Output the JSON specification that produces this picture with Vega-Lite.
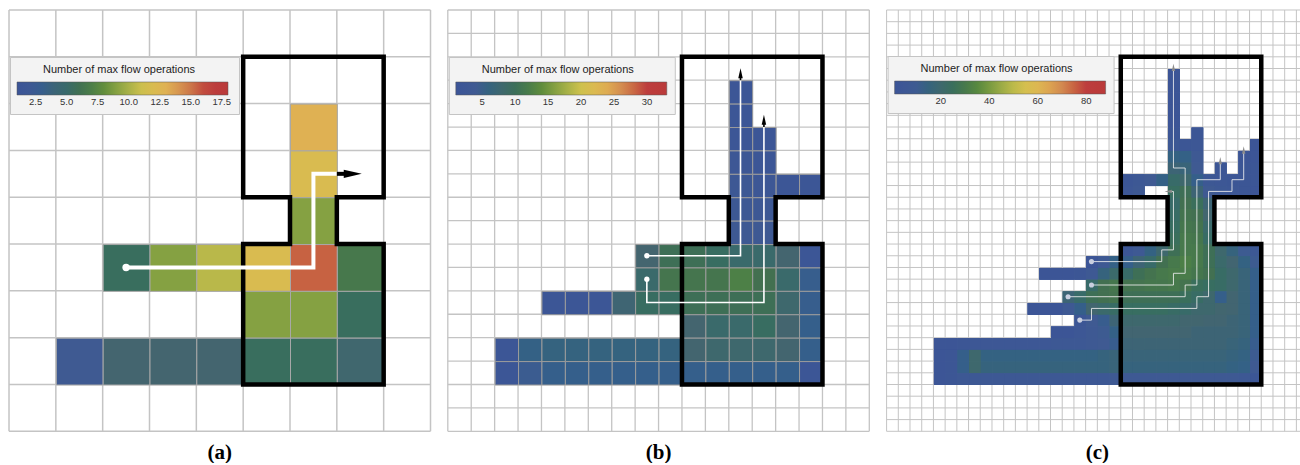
{
 "$schema": "https://vega.github.io/schema/vega-lite/v6.json",
 "padding": {"left": 8, "top": 9, "right": 0, "bottom": 0},
 "background": "white",
 "spacing": 14.8,
 "resolve": {"scale": {"color": "independent", "shape": "independent"}, "legend": {"color": "independent"}},
 "datasets": {
  "gridA": [{"g":0},{"g":1},{"g":2},{"g":3},{"g":4},{"g":5},{"g":6},{"g":7},{"g":8},{"g":9}],
  "gridB": [{"g":0},{"g":1},{"g":2},{"g":3},{"g":4},{"g":5},{"g":6},{"g":7},{"g":8},{"g":9},{"g":10},{"g":11},{"g":12},{"g":13},{"g":14},{"g":15},{"g":16},{"g":17},{"g":18}],
  "gridC": [{"g":0},{"g":1},{"g":2},{"g":3},{"g":4},{"g":5},{"g":6},{"g":7},{"g":8},{"g":9},{"g":10},{"g":11},{"g":12},{"g":13},{"g":14},{"g":15},{"g":16},{"g":17},{"g":18},{"g":19},{"g":20},{"g":21},{"g":22},{"g":23},{"g":24},{"g":25},{"g":26},{"g":27},{"g":28},{"g":29},{"g":30},{"g":31},{"g":32},{"g":33},{"g":34},{"g":35},{"g":36}],
  "cellsA": [{"x":6,"y":2,"v":13},{"x":6,"y":3,"v":12},{"x":6,"y":4,"v":9},
   {"x":2,"y":5,"v":5.6},{"x":3,"y":5,"v":9},{"x":4,"y":5,"v":10.5},{"x":5,"y":5,"v":12},{"x":6,"y":5,"v":15.5},{"x":7,"y":5,"v":6.6},
   {"x":5,"y":6,"v":9},{"x":6,"y":6,"v":9},{"x":7,"y":6,"v":5.6},
   {"x":1,"y":7,"v":2.7},{"x":2,"y":7,"v":4.4},{"x":3,"y":7,"v":4.4},{"x":4,"y":7,"v":4.4},{"x":5,"y":7,"v":5.6},{"x":6,"y":7,"v":5.6},{"x":7,"y":7,"v":4.6}],
  "cellsB": [{"x":12,"y":3,"v":2},{"x":12,"y":4,"v":2},{"x":12,"y":5,"v":2},{"x":13,"y":5,"v":2},
   {"x":12,"y":6,"v":2.5},{"x":13,"y":6,"v":2},
   {"x":12,"y":7,"v":3},{"x":13,"y":7,"v":2.5},{"x":14,"y":7,"v":2},{"x":15,"y":7,"v":2},
   {"x":12,"y":8,"v":3},{"x":13,"y":8,"v":3},{"x":12,"y":9,"v":3.5},{"x":13,"y":9,"v":3.5},
   {"x":8,"y":10,"v":7.4},{"x":9,"y":10,"v":10.2},{"x":10,"y":10,"v":10.2},{"x":11,"y":10,"v":9.4},{"x":12,"y":10,"v":8.4},{"x":13,"y":10,"v":8.4},{"x":14,"y":10,"v":7.4},{"x":15,"y":10,"v":2},
   {"x":8,"y":11,"v":8.4},{"x":9,"y":11,"v":11.2},{"x":10,"y":11,"v":11.2},{"x":11,"y":11,"v":11.2},{"x":12,"y":11,"v":12.5},{"x":13,"y":11,"v":10.6},{"x":14,"y":11,"v":8.4},{"x":15,"y":11,"v":4.8},
   {"x":4,"y":12,"v":2},{"x":5,"y":12,"v":2},{"x":6,"y":12,"v":2},{"x":7,"y":12,"v":7},{"x":8,"y":12,"v":9.4},{"x":9,"y":12,"v":9.4},{"x":10,"y":12,"v":10.2},{"x":11,"y":12,"v":10.2},{"x":12,"y":12,"v":10.2},{"x":13,"y":12,"v":10.2},{"x":14,"y":12,"v":8},{"x":15,"y":12,"v":4.8},
   {"x":10,"y":13,"v":7.4},{"x":11,"y":13,"v":8.4},{"x":12,"y":13,"v":8.4},{"x":13,"y":13,"v":9.4},{"x":14,"y":13,"v":7.4},{"x":15,"y":13,"v":5},
   {"x":2,"y":14,"v":2},{"x":3,"y":14,"v":5.5},{"x":4,"y":14,"v":6},{"x":5,"y":14,"v":6},{"x":6,"y":14,"v":6},{"x":7,"y":14,"v":6},{"x":8,"y":14,"v":6},{"x":9,"y":14,"v":6},{"x":10,"y":14,"v":7.5},{"x":11,"y":14,"v":8},{"x":12,"y":14,"v":8},{"x":13,"y":14,"v":8},{"x":14,"y":14,"v":7.5},{"x":15,"y":14,"v":5},
   {"x":2,"y":15,"v":2},{"x":3,"y":15,"v":4.5},{"x":4,"y":15,"v":5},{"x":5,"y":15,"v":5},{"x":6,"y":15,"v":5},{"x":7,"y":15,"v":5},{"x":8,"y":15,"v":5},{"x":9,"y":15,"v":5},{"x":10,"y":15,"v":5},{"x":11,"y":15,"v":5},{"x":12,"y":15,"v":5},{"x":13,"y":15,"v":5},{"x":14,"y":15,"v":5},{"x":15,"y":15,"v":2}],
  "cellsC": [
   {"x":24,"y":5,"v":3},{"x":24,"y":6,"v":3},{"x":24,"y":7,"v":3},{"x":24,"y":8,"v":3},{"x":24,"y":9,"v":3},{"x":24,"y":10,"v":4},{"x":24,"y":11,"v":6},{"x":24,"y":12,"v":14},{"x":24,"y":13,"v":17},
   {"x":25,"y":11,"v":4},{"x":25,"y":12,"v":13},{"x":25,"y":13,"v":16},
   {"x":26,"y":10,"v":4},{"x":26,"y":11,"v":5},{"x":26,"y":12,"v":8},{"x":26,"y":13,"v":9},
   {"x":28,"y":13,"v":4},{"x":30,"y":12,"v":3},{"x":30,"y":13,"v":4},{"x":31,"y":11,"v":3},{"x":31,"y":12,"v":3},{"x":31,"y":13,"v":4},
   {"x":20,"y":14,"v":4},{"x":21,"y":14,"v":6},{"x":22,"y":14,"v":9},{"x":23,"y":14,"v":13},{"x":24,"y":14,"v":22},{"x":25,"y":14,"v":20},{"x":26,"y":14,"v":12},{"x":27,"y":14,"v":7},{"x":28,"y":14,"v":5},{"x":29,"y":14,"v":4},{"x":30,"y":14,"v":4},{"x":31,"y":14,"v":4},
   {"x":20,"y":15,"v":5},{"x":21,"y":15,"v":8},{"x":24,"y":15,"v":24},{"x":25,"y":15,"v":26},{"x":26,"y":15,"v":17},{"x":27,"y":15,"v":9},{"x":28,"y":15,"v":6},{"x":29,"y":15,"v":5},{"x":30,"y":15,"v":4},{"x":31,"y":15,"v":3},
   {"x":24,"y":16,"v":22},{"x":25,"y":16,"v":27},{"x":26,"y":16,"v":25},{"x":27,"y":16,"v":17},
   {"x":24,"y":17,"v":23},{"x":25,"y":17,"v":28},{"x":26,"y":17,"v":27},{"x":27,"y":17,"v":19},
   {"x":24,"y":18,"v":24},{"x":25,"y":18,"v":29},{"x":26,"y":18,"v":28},{"x":27,"y":18,"v":21},
   {"x":24,"y":19,"v":25},{"x":25,"y":19,"v":30},{"x":26,"y":19,"v":29},{"x":27,"y":19,"v":23},
   {"x":20,"y":20,"v":4},{"x":21,"y":20,"v":8},{"x":22,"y":20,"v":14},{"x":23,"y":20,"v":20},{"x":24,"y":20,"v":26},{"x":25,"y":20,"v":30},{"x":26,"y":20,"v":30},{"x":27,"y":20,"v":26},{"x":28,"y":20,"v":20},{"x":29,"y":20,"v":15},{"x":30,"y":20,"v":10},{"x":31,"y":20,"v":6},
   {"x":20,"y":21,"v":12},{"x":21,"y":21,"v":17},{"x":22,"y":21,"v":22},{"x":23,"y":21,"v":27},{"x":24,"y":21,"v":30},{"x":25,"y":21,"v":32},{"x":26,"y":21,"v":30},{"x":27,"y":21,"v":26},{"x":28,"y":21,"v":21},{"x":29,"y":21,"v":18},{"x":30,"y":21,"v":14},{"x":31,"y":21,"v":10},
   {"x":20,"y":22,"v":22},{"x":21,"y":22,"v":26},{"x":22,"y":22,"v":28},{"x":23,"y":22,"v":30},{"x":24,"y":22,"v":31},{"x":25,"y":22,"v":31},{"x":26,"y":22,"v":29},{"x":27,"y":22,"v":27},{"x":28,"y":22,"v":23},{"x":29,"y":22,"v":20},{"x":30,"y":22,"v":16},{"x":31,"y":22,"v":12},
   {"x":20,"y":23,"v":28},{"x":21,"y":23,"v":28},{"x":22,"y":23,"v":29},{"x":23,"y":23,"v":29},{"x":24,"y":23,"v":30},{"x":25,"y":23,"v":28},{"x":26,"y":23,"v":25},{"x":27,"y":23,"v":24},{"x":28,"y":23,"v":23},{"x":29,"y":23,"v":20},{"x":30,"y":23,"v":16},{"x":31,"y":23,"v":12},
   {"x":20,"y":24,"v":26},{"x":21,"y":24,"v":26},{"x":22,"y":24,"v":26},{"x":23,"y":24,"v":26},{"x":24,"y":24,"v":26},{"x":25,"y":24,"v":25},{"x":26,"y":24,"v":23},{"x":27,"y":24,"v":20},{"x":28,"y":24,"v":12},{"x":29,"y":24,"v":18},{"x":30,"y":24,"v":16},{"x":31,"y":24,"v":12},
   {"x":20,"y":25,"v":24},{"x":21,"y":25,"v":24},{"x":22,"y":25,"v":24},{"x":23,"y":25,"v":24},{"x":24,"y":25,"v":23},{"x":25,"y":25,"v":22},{"x":26,"y":25,"v":20},{"x":27,"y":25,"v":20},{"x":28,"y":25,"v":19},{"x":29,"y":25,"v":18},{"x":30,"y":25,"v":16},{"x":31,"y":25,"v":12},
   {"x":20,"y":26,"v":20},{"x":21,"y":26,"v":20},{"x":22,"y":26,"v":20},{"x":23,"y":26,"v":20},{"x":24,"y":26,"v":20},{"x":25,"y":26,"v":19},{"x":26,"y":26,"v":19},{"x":27,"y":26,"v":18},{"x":28,"y":26,"v":18},{"x":29,"y":26,"v":17},{"x":30,"y":26,"v":16},{"x":31,"y":26,"v":12},
   {"x":20,"y":27,"v":18},{"x":21,"y":27,"v":18},{"x":22,"y":27,"v":18},{"x":23,"y":27,"v":18},{"x":24,"y":27,"v":18},{"x":25,"y":27,"v":18},{"x":26,"y":27,"v":17},{"x":27,"y":27,"v":17},{"x":28,"y":27,"v":17},{"x":29,"y":27,"v":17},{"x":30,"y":27,"v":16},{"x":31,"y":27,"v":12},
   {"x":20,"y":28,"v":17},{"x":21,"y":28,"v":17},{"x":22,"y":28,"v":17},{"x":23,"y":28,"v":17},{"x":24,"y":28,"v":17},{"x":25,"y":28,"v":17},{"x":26,"y":28,"v":17},{"x":27,"y":28,"v":17},{"x":28,"y":28,"v":17},{"x":29,"y":28,"v":16},{"x":30,"y":28,"v":15},{"x":31,"y":28,"v":11},
   {"x":20,"y":29,"v":16},{"x":21,"y":29,"v":16},{"x":22,"y":29,"v":16},{"x":23,"y":29,"v":16},{"x":24,"y":29,"v":16},{"x":25,"y":29,"v":16},{"x":26,"y":29,"v":16},{"x":27,"y":29,"v":16},{"x":28,"y":29,"v":16},{"x":29,"y":29,"v":15},{"x":30,"y":29,"v":14},{"x":31,"y":29,"v":10},
   {"x":20,"y":30,"v":15},{"x":21,"y":30,"v":15},{"x":22,"y":30,"v":15},{"x":23,"y":30,"v":15},{"x":24,"y":30,"v":15},{"x":25,"y":30,"v":15},{"x":26,"y":30,"v":15},{"x":27,"y":30,"v":15},{"x":28,"y":30,"v":15},{"x":29,"y":30,"v":14},{"x":30,"y":30,"v":13},{"x":31,"y":30,"v":9},
   {"x":20,"y":31,"v":8},{"x":21,"y":31,"v":8},{"x":22,"y":31,"v":8},{"x":23,"y":31,"v":8},{"x":24,"y":31,"v":8},{"x":25,"y":31,"v":8},{"x":26,"y":31,"v":8},{"x":27,"y":31,"v":8},{"x":28,"y":31,"v":8},{"x":29,"y":31,"v":8},{"x":30,"y":31,"v":7},{"x":31,"y":31,"v":4},
   {"x":17,"y":21,"v":3},{"x":18,"y":21,"v":8},{"x":19,"y":21,"v":13},
   {"x":13,"y":22,"v":3},{"x":14,"y":22,"v":3},{"x":15,"y":22,"v":3},{"x":16,"y":22,"v":4},{"x":17,"y":22,"v":8},{"x":18,"y":22,"v":15},{"x":19,"y":22,"v":21},
   {"x":17,"y":23,"v":22},{"x":18,"y":23,"v":27},{"x":19,"y":23,"v":29},
   {"x":15,"y":24,"v":17},{"x":16,"y":24,"v":22},{"x":17,"y":24,"v":26},{"x":18,"y":24,"v":27},{"x":19,"y":24,"v":28},
   {"x":12,"y":25,"v":3},{"x":13,"y":25,"v":3},{"x":14,"y":25,"v":3},{"x":15,"y":25,"v":8},{"x":16,"y":25,"v":12},{"x":17,"y":25,"v":19},{"x":18,"y":25,"v":21},{"x":19,"y":25,"v":23},
   {"x":16,"y":26,"v":4},{"x":17,"y":26,"v":9},{"x":18,"y":26,"v":11},{"x":19,"y":26,"v":17},
   {"x":14,"y":27,"v":3},{"x":15,"y":27,"v":3},{"x":16,"y":27,"v":5},{"x":17,"y":27,"v":8},{"x":18,"y":27,"v":10},{"x":19,"y":27,"v":13},
   {"x":4,"y":28,"v":3},{"x":5,"y":28,"v":3},{"x":6,"y":28,"v":4},{"x":7,"y":28,"v":5},{"x":8,"y":28,"v":5},{"x":9,"y":28,"v":5},{"x":10,"y":28,"v":5},{"x":11,"y":28,"v":5},{"x":12,"y":28,"v":5},{"x":13,"y":28,"v":5},{"x":14,"y":28,"v":6},{"x":15,"y":28,"v":6},{"x":16,"y":28,"v":7},{"x":17,"y":28,"v":8},{"x":18,"y":28,"v":9},{"x":19,"y":28,"v":11},
   {"x":4,"y":29,"v":3},{"x":5,"y":29,"v":4},{"x":6,"y":29,"v":12},{"x":7,"y":29,"v":20},{"x":8,"y":29,"v":14},{"x":9,"y":29,"v":14},{"x":10,"y":29,"v":14},{"x":11,"y":29,"v":14},{"x":12,"y":29,"v":14},{"x":13,"y":29,"v":14},{"x":14,"y":29,"v":14},{"x":15,"y":29,"v":14},{"x":16,"y":29,"v":14},{"x":17,"y":29,"v":14},{"x":18,"y":29,"v":15},{"x":19,"y":29,"v":16},
   {"x":4,"y":30,"v":3},{"x":5,"y":30,"v":4},{"x":6,"y":30,"v":12},{"x":7,"y":30,"v":20},{"x":8,"y":30,"v":15},{"x":9,"y":30,"v":15},{"x":10,"y":30,"v":15},{"x":11,"y":30,"v":15},{"x":12,"y":30,"v":15},{"x":13,"y":30,"v":15},{"x":14,"y":30,"v":15},{"x":15,"y":30,"v":15},{"x":16,"y":30,"v":15},{"x":17,"y":30,"v":15},{"x":18,"y":30,"v":15},{"x":19,"y":30,"v":16},
   {"x":4,"y":31,"v":3},{"x":5,"y":31,"v":4},{"x":6,"y":31,"v":6},{"x":7,"y":31,"v":7},{"x":8,"y":31,"v":7},{"x":9,"y":31,"v":7},{"x":10,"y":31,"v":7},{"x":11,"y":31,"v":7},{"x":12,"y":31,"v":7},{"x":13,"y":31,"v":7},{"x":14,"y":31,"v":7},{"x":15,"y":31,"v":7},{"x":16,"y":31,"v":7},{"x":17,"y":31,"v":7},{"x":18,"y":31,"v":7},{"x":19,"y":31,"v":8}],
  "outA": [{"i":0,"x":5,"y":1},{"i":1,"x":8,"y":1},{"i":2,"x":8,"y":4},{"i":3,"x":7,"y":4},{"i":4,"x":7,"y":5},{"i":5,"x":8,"y":5},{"i":6,"x":8,"y":8},{"i":7,"x":5,"y":8},{"i":8,"x":5,"y":5},{"i":9,"x":6,"y":5},{"i":10,"x":6,"y":4},{"i":11,"x":5,"y":4},{"i":12,"x":5,"y":1}],
  "outB": [{"i":0,"x":10,"y":2},{"i":1,"x":16,"y":2},{"i":2,"x":16,"y":8},{"i":3,"x":14,"y":8},{"i":4,"x":14,"y":10},{"i":5,"x":16,"y":10},{"i":6,"x":16,"y":16},{"i":7,"x":10,"y":16},{"i":8,"x":10,"y":10},{"i":9,"x":12,"y":10},{"i":10,"x":12,"y":8},{"i":11,"x":10,"y":8},{"i":12,"x":10,"y":2}],
  "outC": [{"i":0,"x":20,"y":4},{"i":1,"x":32,"y":4},{"i":2,"x":32,"y":16},{"i":3,"x":28,"y":16},{"i":4,"x":28,"y":20},{"i":5,"x":32,"y":20},{"i":6,"x":32,"y":32},{"i":7,"x":20,"y":32},{"i":8,"x":20,"y":20},{"i":9,"x":24,"y":20},{"i":10,"x":24,"y":16},{"i":11,"x":20,"y":16},{"i":12,"x":20,"y":4}],
  "pathA": [{"p":1,"i":0,"x":2.5,"y":5.5},{"p":1,"i":1,"x":6.5,"y":5.5},{"p":1,"i":2,"x":6.5,"y":3.5},{"p":1,"i":3,"x":7.0,"y":3.5}],
  "stemA": [{"p":1,"i":0,"x":7.0,"y":3.5},{"p":1,"i":1,"x":7.2,"y":3.5}],
  "headA": [{"x":7.34,"y":3.5}],
  "startA": [{"x":2.5,"y":5.5}],
  "pathB": [{"p":1,"i":0,"x":8.5,"y":10.5},{"p":1,"i":1,"x":12.5,"y":10.5},{"p":1,"i":2,"x":12.5,"y":3.0},
   {"p":2,"i":0,"x":8.5,"y":11.5},{"p":2,"i":1,"x":8.5,"y":12.5},{"p":2,"i":2,"x":13.5,"y":12.5},{"p":2,"i":3,"x":13.5,"y":5.0}],
  "stemB": [{"p":1,"i":0,"x":12.5,"y":3.0},{"p":1,"i":1,"x":12.5,"y":2.8},{"p":2,"i":0,"x":13.5,"y":5.0},{"p":2,"i":1,"x":13.5,"y":4.8}],
  "headB": [{"x":12.5,"y":2.7},{"x":13.5,"y":4.69}],
  "startB": [{"x":8.5,"y":10.5},{"x":8.5,"y":11.5}],
  "pathC": [{"p":1,"i":0,"x":17.5,"y":21.5},{"p":1,"i":1,"x":23.5,"y":21.5},{"p":1,"i":2,"x":23.5,"y":20.5},{"p":1,"i":3,"x":24.5,"y":20.5},{"p":1,"i":4,"x":24.5,"y":15.5},{"p":1,"i":5,"x":24.3,"y":15.5},
   {"p":2,"i":0,"x":17.5,"y":23.5},{"p":2,"i":1,"x":24.5,"y":23.5},{"p":2,"i":2,"x":24.5,"y":22.5},{"p":2,"i":3,"x":25.5,"y":22.5},{"p":2,"i":4,"x":25.5,"y":13.5},{"p":2,"i":5,"x":24.5,"y":13.5},{"p":2,"i":6,"x":24.5,"y":5.1},
   {"p":3,"i":0,"x":15.5,"y":24.5},{"p":3,"i":1,"x":25.5,"y":24.5},{"p":3,"i":2,"x":25.5,"y":23.5},{"p":3,"i":3,"x":26.5,"y":23.5},{"p":3,"i":4,"x":26.5,"y":14.5},{"p":3,"i":5,"x":28.5,"y":14.5},{"p":3,"i":6,"x":28.5,"y":13.1},
   {"p":4,"i":0,"x":16.5,"y":26.5},{"p":4,"i":1,"x":17.5,"y":26.5},{"p":4,"i":2,"x":17.5,"y":25.5},{"p":4,"i":3,"x":26.5,"y":25.5},{"p":4,"i":4,"x":26.5,"y":24.5},{"p":4,"i":5,"x":27.5,"y":24.5},{"p":4,"i":6,"x":27.5,"y":15.5},{"p":4,"i":7,"x":29.5,"y":15.5},{"p":4,"i":8,"x":29.5,"y":14.5},{"p":4,"i":9,"x":30.5,"y":14.5},{"p":4,"i":10,"x":30.5,"y":12.1}],
  "headC": [{"d":"left","x":24.05,"y":15.5},{"d":"up","x":24.5,"y":4.9},{"d":"up","x":28.5,"y":12.87},{"d":"up","x":30.5,"y":11.96}],
  "startC": [{"x":17.5,"y":21.5},{"x":17.5,"y":23.5},{"x":15.5,"y":24.5},{"x":16.5,"y":26.5}]
 },
 "hconcat": [
  {
   "width": 421.5, "height": 421.3,
   "title": {"text": "(a)", "orient": "bottom", "anchor": "middle", "font": "Liberation Serif", "fontSize": 21, "fontWeight": "bold", "color": "#000000", "offset": 10},
   "layer": [
    {"data": {"name": "gridA"}, "mark": {"type": "rule", "color": "#c4c4c4", "strokeWidth": 1.5},
     "encoding": {"x": {"field": "g", "type": "quantitative", "title": null, "scale": {"domain": [0, 9], "nice": false, "zero": false}}}},
    {"data": {"name": "gridA"}, "mark": {"type": "rule", "color": "#c4c4c4", "strokeWidth": 1.5},
     "encoding": {"y": {"field": "g", "type": "quantitative", "title": null, "scale": {"domain": [0, 9], "nice": false, "zero": false, "reverse": true}}}},
    {"data": {"name": "cellsA"},
     "mark": {"type": "rect", "stroke": "#a8a8a8", "strokeWidth": 1, "binSpacing": 0},
     "encoding": {
      "x": {"field": "x", "type": "quantitative", "bin": {"step": 1, "extent": [0, 9]}, "title": null},
      "y": {"field": "y", "type": "quantitative", "bin": {"step": 1, "extent": [0, 9]}, "title": null},
      "color": {"field": "v", "type": "quantitative", "scale": {"domain": [1, 18], "range": ["#3b5497","#3f5a92","#44656f","#437050","#5b8a3c","#98aa46","#d2c24e","#e0b454","#d08650","#bd3d3d","#ba3a3a"]},
       "legend": {"title": "Number of max flow operations", "orient": "none", "legendX": 1, "legendY": 47, "direction": "horizontal", "gradientLength": 211, "gradientThickness": 13, "values": [2.5,5,7.5,10,12.5,15,17.5], "format": ".1f", "titleAnchor": "middle", "titleAlign": "center"}}
     }},
    {"data": {"name": "outA"}, "mark": {"type": "line", "color": "#000000", "strokeWidth": 4.5, "strokeCap": "square", "strokeJoin": "miter"},
     "encoding": {"x": {"field": "x", "type": "quantitative", "title": null}, "y": {"field": "y", "type": "quantitative", "title": null}, "order": {"field": "i"}}},
    {"data": {"name": "pathA"}, "mark": {"type": "line", "color": "#ffffff", "strokeWidth": 4, "strokeJoin": "miter"},
     "encoding": {"x": {"field": "x", "type": "quantitative", "title": null}, "y": {"field": "y", "type": "quantitative", "title": null}, "order": {"field": "i"}, "detail": {"field": "p"}}},
    {"data": {"name": "stemA"}, "mark": {"type": "line", "color": "#000000", "strokeWidth": 4},
     "encoding": {"x": {"field": "x", "type": "quantitative", "title": null}, "y": {"field": "y", "type": "quantitative", "title": null}, "order": {"field": "i"}, "detail": {"field": "p"}}},
    {"data": {"name": "headA"}, "mark": {"type": "point", "shape": "M1,0L-1,0.45L-1,-0.45Z", "filled": true, "color": "#000000", "opacity": 1, "size": 324},
     "encoding": {"x": {"field": "x", "type": "quantitative", "title": null}, "y": {"field": "y", "type": "quantitative", "title": null}}},
    {"data": {"name": "startA"}, "mark": {"type": "circle", "color": "#ffffff", "opacity": 1, "size": 55},
     "encoding": {"x": {"field": "x", "type": "quantitative", "title": null}, "y": {"field": "y", "type": "quantitative", "title": null}}}
   ]
  },
  {
   "width": 421.5, "height": 421.3,
   "title": {"text": "(b)", "orient": "bottom", "anchor": "middle", "font": "Liberation Serif", "fontSize": 21, "fontWeight": "bold", "color": "#000000", "offset": 10},
   "layer": [
    {"data": {"name": "gridB"}, "mark": {"type": "rule", "color": "#c4c4c4", "strokeWidth": 1.3},
     "encoding": {"x": {"field": "g", "type": "quantitative", "title": null, "scale": {"domain": [0, 18], "nice": false, "zero": false}}}},
    {"data": {"name": "gridB"}, "mark": {"type": "rule", "color": "#c4c4c4", "strokeWidth": 1.3},
     "encoding": {"y": {"field": "g", "type": "quantitative", "title": null, "scale": {"domain": [0, 18], "nice": false, "zero": false, "reverse": true}}}},
    {"data": {"name": "cellsB"},
     "mark": {"type": "rect", "stroke": "#9c9c9c", "strokeWidth": 1, "binSpacing": 0},
     "encoding": {
      "x": {"field": "x", "type": "quantitative", "bin": {"step": 1, "extent": [0, 18]}, "title": null},
      "y": {"field": "y", "type": "quantitative", "bin": {"step": 1, "extent": [0, 18]}, "title": null},
      "color": {"field": "v", "type": "quantitative", "scale": {"domain": [1, 33], "range": ["#3b5497","#3f5a92","#44656f","#437050","#5b8a3c","#98aa46","#d2c24e","#e0b454","#d08650","#bd3d3d","#ba3a3a"]},
       "legend": {"title": "Number of max flow operations", "orient": "none", "legendX": 1, "legendY": 47, "direction": "horizontal", "gradientLength": 211, "gradientThickness": 13, "values": [5,10,15,20,25,30], "format": "d", "titleAnchor": "middle", "titleAlign": "center"}}
     }},
    {"data": {"name": "outB"}, "mark": {"type": "line", "color": "#000000", "strokeWidth": 4.5, "strokeCap": "square", "strokeJoin": "miter"},
     "encoding": {"x": {"field": "x", "type": "quantitative", "title": null}, "y": {"field": "y", "type": "quantitative", "title": null}, "order": {"field": "i"}}},
    {"data": {"name": "pathB"}, "mark": {"type": "line", "color": "#ffffff", "strokeWidth": 1.6, "strokeJoin": "miter"},
     "encoding": {"x": {"field": "x", "type": "quantitative", "title": null}, "y": {"field": "y", "type": "quantitative", "title": null}, "order": {"field": "i"}, "detail": {"field": "p"}}},
    {"data": {"name": "stemB"}, "mark": {"type": "line", "color": "#000000", "strokeWidth": 1.6},
     "encoding": {"x": {"field": "x", "type": "quantitative", "title": null}, "y": {"field": "y", "type": "quantitative", "title": null}, "order": {"field": "i"}, "detail": {"field": "p"}}},
    {"data": {"name": "headB"}, "mark": {"type": "point", "shape": "M0,-1L0.45,1L-0.45,1Z", "filled": true, "color": "#000000", "opacity": 1, "size": 100},
     "encoding": {"x": {"field": "x", "type": "quantitative", "title": null}, "y": {"field": "y", "type": "quantitative", "title": null}}},
    {"data": {"name": "startB"}, "mark": {"type": "circle", "color": "#ffffff", "opacity": 1, "size": 28},
     "encoding": {"x": {"field": "x", "type": "quantitative", "title": null}, "y": {"field": "y", "type": "quantitative", "title": null}}}
   ]
  },
  {
   "width": 421.5, "height": 421.3,
   "title": {"text": "(c)", "orient": "bottom", "anchor": "middle", "font": "Liberation Serif", "fontSize": 21, "fontWeight": "bold", "color": "#000000", "offset": 10},
   "layer": [
    {"data": {"name": "gridC"}, "mark": {"type": "rule", "color": "#c4c4c4", "strokeWidth": 1},
     "encoding": {"x": {"field": "g", "type": "quantitative", "title": null, "scale": {"domain": [0, 36], "nice": false, "zero": false}}}},
    {"data": {"name": "gridC"}, "mark": {"type": "rule", "color": "#c4c4c4", "strokeWidth": 1},
     "encoding": {"y": {"field": "g", "type": "quantitative", "title": null, "scale": {"domain": [0, 36], "nice": false, "zero": false, "reverse": true}}}},
    {"data": {"name": "cellsC"},
     "mark": {"type": "rect", "strokeWidth": 0, "binSpacing": 0},
     "encoding": {
      "x": {"field": "x", "type": "quantitative", "bin": {"step": 1, "extent": [0, 36]}, "title": null},
      "y": {"field": "y", "type": "quantitative", "bin": {"step": 1, "extent": [0, 36]}, "title": null},
      "color": {"field": "v", "type": "quantitative", "scale": {"domain": [1, 88], "range": ["#3b5497","#3f5a92","#44656f","#437050","#5b8a3c","#98aa46","#d2c24e","#e0b454","#d08650","#bd3d3d","#ba3a3a"]},
       "legend": {"title": "Number of max flow operations", "orient": "none", "legendX": 1, "legendY": 46, "direction": "horizontal", "gradientLength": 211, "gradientThickness": 13, "values": [20,40,60,80], "format": "d", "titleAnchor": "middle", "titleAlign": "center"}}
     }},
    {"data": {"name": "cellsC"},
     "mark": {"type": "rect", "strokeWidth": 0, "binSpacing": 0},
     "encoding": {
      "x": {"field": "x", "type": "quantitative", "bin": {"step": 1, "extent": [0, 36]}, "title": null},
      "y": {"field": "y", "type": "quantitative", "bin": {"step": 1, "extent": [0, 36]}, "title": null},
      "color": {"field": "v", "type": "quantitative", "scale": {"domain": [1, 88], "range": ["#3b5497","#3f5a92","#44656f","#437050","#5b8a3c","#98aa46","#d2c24e","#e0b454","#d08650","#bd3d3d","#ba3a3a"]},
       "legend": {"title": "Number of max flow operations", "orient": "none", "legendX": 1, "legendY": 46, "direction": "horizontal", "gradientLength": 211, "gradientThickness": 13, "values": [20,40,60,80], "format": "d", "titleAnchor": "middle", "titleAlign": "center"}}
     }},
    {"data": {"name": "cellsC"},
     "mark": {"type": "rect", "strokeWidth": 0, "binSpacing": 0},
     "encoding": {
      "x": {"field": "x", "type": "quantitative", "bin": {"step": 1, "extent": [0, 36]}, "title": null},
      "y": {"field": "y", "type": "quantitative", "bin": {"step": 1, "extent": [0, 36]}, "title": null},
      "color": {"field": "v", "type": "quantitative", "scale": {"domain": [1, 88], "range": ["#3b5497","#3f5a92","#44656f","#437050","#5b8a3c","#98aa46","#d2c24e","#e0b454","#d08650","#bd3d3d","#ba3a3a"]},
       "legend": {"title": "Number of max flow operations", "orient": "none", "legendX": 1, "legendY": 46, "direction": "horizontal", "gradientLength": 211, "gradientThickness": 13, "values": [20,40,60,80], "format": "d", "titleAnchor": "middle", "titleAlign": "center"}}
     }},
    {"data": {"name": "outC"}, "mark": {"type": "line", "color": "#000000", "strokeWidth": 4.5, "strokeCap": "square", "strokeJoin": "miter"},
     "encoding": {"x": {"field": "x", "type": "quantitative", "title": null}, "y": {"field": "y", "type": "quantitative", "title": null}, "order": {"field": "i"}}},
    {"data": {"name": "pathC"}, "mark": {"type": "line", "color": "#eeeeee", "strokeWidth": 1, "opacity": 0.85, "strokeJoin": "miter"},
     "encoding": {"x": {"field": "x", "type": "quantitative", "title": null}, "y": {"field": "y", "type": "quantitative", "title": null}, "order": {"field": "i"}, "detail": {"field": "p"}}},
    {"data": {"name": "headC"}, "mark": {"type": "point", "filled": true, "color": "#8c8c8c", "opacity": 1, "size": 55},
     "encoding": {"x": {"field": "x", "type": "quantitative", "title": null}, "y": {"field": "y", "type": "quantitative", "title": null},
      "shape": {"field": "d", "type": "nominal", "scale": {"domain": ["up", "left"], "range": ["M0,-1L0.45,1L-0.45,1Z", "M-1,0L1,-0.45L1,0.45Z"]}, "legend": null}}},
    {"data": {"name": "startC"}, "mark": {"type": "circle", "color": "#c9cfe0", "opacity": 1, "size": 26},
     "encoding": {"x": {"field": "x", "type": "quantitative", "title": null}, "y": {"field": "y", "type": "quantitative", "title": null}}}
   ]
  }
 ],
 "config": {
  "view": {"stroke": null},
  "axis": {"disable": true},
  "legend": {"padding": 7, "fillColor": "#f3f3f3", "strokeColor": "#c4c4c4", "titleFont": "Liberation Sans", "titleFontSize": 11, "titleFontWeight": "normal", "titleColor": "#222222", "titlePadding": 7, "labelFont": "Liberation Sans", "labelFontSize": 9.5, "labelColor": "#333333", "labelOffset": 6, "gradientStrokeColor": "#555555", "gradientStrokeWidth": 0.5}
 }
}
